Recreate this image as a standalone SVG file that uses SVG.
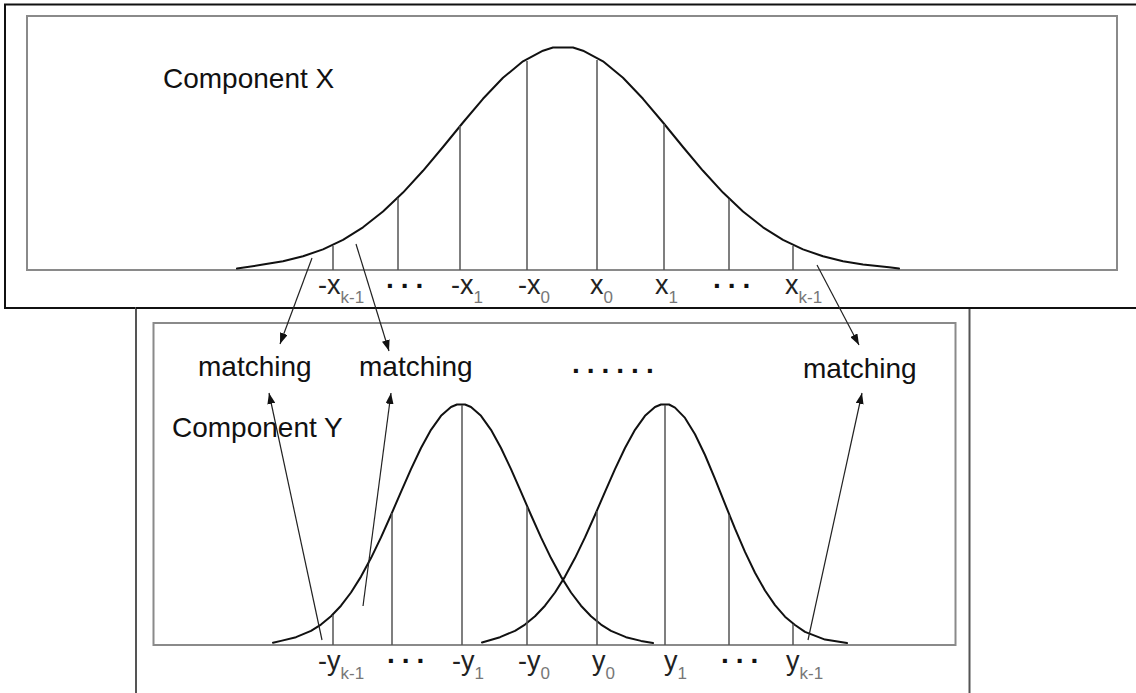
<svg xmlns="http://www.w3.org/2000/svg" width="1136" height="693" viewBox="0 0 1136 693">
<style>
.frame{fill:none;stroke:#111;stroke-width:2}
.frame2{fill:none;stroke:#555;stroke-width:2}
.inner{fill:none;stroke:#8a8a8a;stroke-width:2}
.curve{fill:none;stroke:#111;stroke-width:2;stroke-linejoin:round;stroke-linecap:round}
.tick{stroke:#555;stroke-width:1.5}
.conn{stroke:#222;stroke-width:1.2;fill:none}
.title{font-family:"Liberation Sans",Arial,sans-serif;font-size:28px;fill:#111}
.lbl{font-family:"Liberation Sans",Arial,sans-serif;font-size:27px;fill:#222}
.sub{font-size:17px;fill:#777}
.dots{font-family:"Liberation Sans",Arial,sans-serif;font-size:28px;font-weight:bold;fill:#111;letter-spacing:7px}
</style>
<defs>
<marker id="ah" markerUnits="userSpaceOnUse" markerWidth="11" markerHeight="8" refX="11" refY="4" orient="auto">
<path d="M0,0 L11,4 L0,8 z" fill="#111"/>
</marker>
</defs>
<rect width="1136" height="693" fill="#fff"/>

<g id="componentX">
<rect class="frame" x="5" y="4.5" width="1140" height="303.5"/>
<rect class="inner" x="27" y="16" width="1090" height="254"/>
<text class="title" x="163" y="88">Component X</text>
<polyline class="curve" points="237,268.5 263,264.6 283,261.3 303,256.3 323,249.4 343,239.8 363,227.3 383,211.5 403,192.6 423,170.8 443,147 463,122.5 483,98.8 503,77.8 523,61.3 543,50.7 553,47.5 573,47.5 583,50.7 603,61.3 623,77.8 643,98.8 663,122.5 683,147 703,170.8 723,192.6 743,211.5 763,227.3 783,239.8 803,249.4 823,256.3 843,261.3 863,264.6 889,267.2 899,268.5"/>
<line class="tick" x1="333" y1="246" x2="333" y2="270"/>
<line class="tick" x1="398" y1="198" x2="398" y2="270"/>
<line class="tick" x1="460" y1="126" x2="460" y2="270"/>
<line class="tick" x1="527" y1="61" x2="527" y2="270"/>
<line class="tick" x1="597" y1="60" x2="597" y2="270"/>
<line class="tick" x1="664" y1="124" x2="664" y2="270"/>
<line class="tick" x1="729" y1="199" x2="729" y2="270"/>
<line class="tick" x1="793" y1="246" x2="793" y2="270"/>
<text class="lbl" x="318" y="294">-x<tspan class="sub" dy="9">k-1</tspan></text>
<text class="dots" x="386" y="288">...</text>
<text class="lbl" x="451" y="294">-x<tspan class="sub" dy="9">1</tspan></text>
<text class="lbl" x="518" y="294">-x<tspan class="sub" dy="9">0</tspan></text>
<text class="lbl" x="590" y="294">x<tspan class="sub" dy="9">0</tspan></text>
<text class="lbl" x="655" y="294">x<tspan class="sub" dy="9">1</tspan></text>
<text class="dots" x="713" y="288">...</text>
<text class="lbl" x="785" y="294">x<tspan class="sub" dy="9">k-1</tspan></text>
</g>

<g id="componentY">
<rect class="frame2" x="136" y="308" width="833.5" height="400"/>
<line class="frame" x1="136" y1="308" x2="1136" y2="308"/>
<rect class="inner" x="153.5" y="323" width="802" height="322"/>
<text class="title" x="172" y="437">Component Y</text>
<polyline class="curve" points="273,642.8 281,640.9 296,637.2 311,630.8 321,624.6 331,616.3 341,605.7 351,592.5 361,576.6 371,558.1 381,537.4 391,515 401,491.9 411,469.1 421,448 431,429.8 441,415.8 451,407 457,404.5 465,404.5 471,407 481,415.8 491,429.8 501,448 511,469.1 521,491.9 531,515 541,537.4 551,558.1 561,576.6 571,592.5 581,605.7 591,616.3 601,624.6 611,630.8 626,637.2 641,640.9 653,643"/>
<polyline class="curve" points="482,642.5 500,637.2 515,630.8 525,624.6 535,616.3 545,605.7 555,592.5 565,576.6 575,558.1 585,537.4 595,515 605,491.9 615,469.1 625,448 635,429.8 645,415.8 655,407 661,404.5 669,404.5 675,407.6 685,417.9 695,434.2 705,455 715,478.8 725,503.9 735,528.7 745,551.9 755,572.7 765,590.5 775,605.1 785,616.7 795,625 805,631.9 825,639.6 847,643"/>
<line class="tick" x1="333" y1="615" x2="333" y2="645"/>
<line class="tick" x1="392" y1="513" x2="392" y2="645"/>
<line class="tick" x1="462" y1="405" x2="462" y2="645"/>
<line class="tick" x1="527" y1="507" x2="527" y2="645"/>
<line class="tick" x1="597" y1="511" x2="597" y2="645"/>
<line class="tick" x1="665" y1="405" x2="665" y2="645"/>
<line class="tick" x1="729" y1="515" x2="729" y2="645"/>
<line class="tick" x1="793" y1="624" x2="793" y2="645"/>
<text class="lbl" x="318" y="670">-y<tspan class="sub" dy="9">k-1</tspan></text>
<text class="dots" x="387" y="663">...</text>
<text class="lbl" x="452" y="670">-y<tspan class="sub" dy="9">1</tspan></text>
<text class="lbl" x="518" y="670">-y<tspan class="sub" dy="9">0</tspan></text>
<text class="lbl" x="592" y="670">y<tspan class="sub" dy="9">0</tspan></text>
<text class="lbl" x="664" y="670">y<tspan class="sub" dy="9">1</tspan></text>
<text class="dots" x="721" y="663">...</text>
<text class="lbl" x="786" y="670">y<tspan class="sub" dy="9">k-1</tspan></text>
</g>

<g id="matching1"><text class="title" x="198" y="376">matching</text></g>
<g id="matching2"><text class="title" x="359" y="376">matching</text></g>
<g id="matching3"><text class="title" x="803" y="378">matching</text></g>
<g id="ellipsis"><text class="dots" x="572" y="373">......</text></g>

<g id="connectors">
<line class="conn" x1="312" y1="258" x2="280" y2="344" marker-end="url(#ah)"/>
<line class="conn" x1="356" y1="244" x2="389" y2="351" marker-end="url(#ah)"/>
<line class="conn" x1="817" y1="265" x2="859" y2="345" marker-end="url(#ah)"/>
<line class="conn" x1="322" y1="640" x2="269" y2="393" marker-end="url(#ah)"/>
<line class="conn" x1="363" y1="606" x2="391" y2="393" marker-end="url(#ah)"/>
<line class="conn" x1="808" y1="640" x2="862" y2="393" marker-end="url(#ah)"/>
</g>
</svg>
